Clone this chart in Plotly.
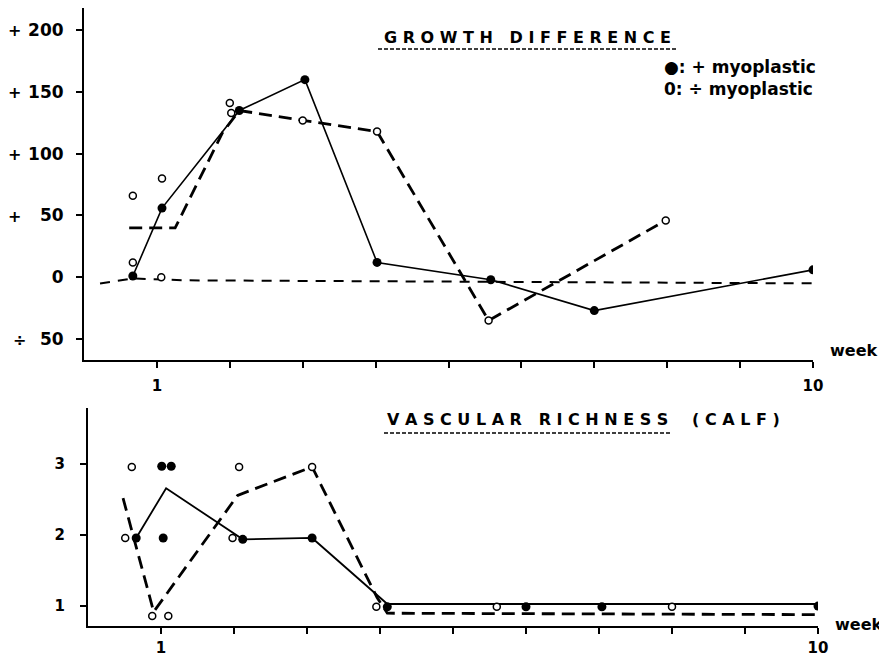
import plotly.graph_objects as go

# page body has an 8px default margin, so the figure is 8px smaller and
# all reference pixel positions are shifted by 8px.
OFF = 8
W, H = 887 - OFF, 656 - OFF

# ---------------- data: GROWTH DIFFERENCE ----------------
plus_line_x = [0.67, 1.07, 2.13, 3.03, 4.02, 5.58, 7.0, 10.0]
plus_line_y = [1, 56, 135, 160, 12, -2, -27, 6]

minus_line_x = [0.62, 1.25, 1.9, 2.13, 3.0, 4.02, 5.55, 7.98]
minus_line_y = [40, 40, 117, 135, 127, 118, -35, 46]

minus_pts_x = [0.67, 0.67, 1.07, 1.06, 2.0, 2.02, 3.0, 4.02, 5.55, 7.98]
minus_pts_y = [66, 12, 80, 0, 141, 133, 127, 118, -35, 46]

base_x = [0.22, 0.67, 1.4, 10.15]
base_y = [-5, -1, -2.5, -5]

growth_ticks = [200, 150, 100, 50, 0, -50]
growth_ticktext = ["200", "150", "100", "50", "0", "50"]
growth_signs = ["+", "+", "+", "+", "", "÷"]

# ---------------- data: VASCULAR RICHNESS ----------------
vplus_line_x = [0.66, 1.07, 2.12, 3.07, 4.1, 10.0]
vplus_line_y = [1.96, 2.66, 1.94, 1.96, 1.03, 1.03]

vplus_pts_x = [0.66, 1.01, 1.14, 1.03, 2.12, 3.07, 4.1, 6.0, 7.04, 10.0]
vplus_pts_y = [1.96, 2.97, 2.97, 1.96, 1.94, 1.96, 0.99, 0.99, 0.99, 1.0]

vminus_line_x = [0.48, 0.9, 2.05, 3.07, 3.96, 4.1, 10.0]
vminus_line_y = [2.52, 0.92, 2.56, 2.96, 1.12, 0.9, 0.88]

vminus_pts_x = [0.60, 0.51, 0.88, 1.10, 2.07, 1.98, 3.07, 3.95, 5.6, 8.0]
vminus_pts_y = [2.96, 1.96, 0.86, 0.86, 2.96, 1.96, 2.96, 0.99, 0.99, 0.99]

vasc_ticks = [3, 2, 1]
week_ticks = list(range(1, 11))
week_ticktext = ["1", "", "", "", "", "", "", "", "", "10"]

FONT = "DejaVu Sans"


def px(x):
    return (x - OFF) / W


def py(y):
    return 1 - (y - OFF) / H


fig = go.Figure()

filled = dict(symbol="circle", size=9, color="black")
opened = dict(symbol="circle", size=7, color="white", line=dict(width=1.5, color="black"))

# top
fig.add_trace(go.Scatter(x=base_x, y=base_y, mode="lines",
                         line=dict(color="black", width=2, dash="10px,8px"),
                         xaxis="x", yaxis="y", showlegend=False))
fig.add_trace(go.Scatter(x=minus_line_x, y=minus_line_y, mode="lines",
                         line=dict(color="black", width=2.8, dash="13px,7px"),
                         xaxis="x", yaxis="y", showlegend=False))
fig.add_trace(go.Scatter(x=plus_line_x, y=plus_line_y, mode="lines+markers",
                         line=dict(color="black", width=1.6), marker=filled,
                         xaxis="x", yaxis="y", showlegend=False))
fig.add_trace(go.Scatter(x=minus_pts_x, y=minus_pts_y, mode="markers",
                         marker=opened, xaxis="x", yaxis="y", showlegend=False))

# bottom
fig.add_trace(go.Scatter(x=vminus_line_x, y=vminus_line_y, mode="lines",
                         line=dict(color="black", width=2.8, dash="13px,7px"),
                         xaxis="x2", yaxis="y2", showlegend=False))
fig.add_trace(go.Scatter(x=vplus_line_x, y=vplus_line_y, mode="lines",
                         line=dict(color="black", width=1.8),
                         xaxis="x2", yaxis="y2", showlegend=False))
fig.add_trace(go.Scatter(x=vplus_pts_x, y=vplus_pts_y, mode="markers",
                         marker=filled, xaxis="x2", yaxis="y2", showlegend=False))
fig.add_trace(go.Scatter(x=vminus_pts_x, y=vminus_pts_y, mode="markers",
                         marker=opened, xaxis="x2", yaxis="y2", showlegend=False))


def axis(size, standoff, **kw):
    d = dict(showgrid=False, zeroline=False, showline=True,
             linecolor="black", linewidth=2, ticks="outside",
             ticklen=6, tickwidth=2, tickcolor="black",
             tickfont=dict(family=FONT, size=size, color="black", weight="bold"),
             ticklabelstandoff=standoff, automargin=False)
    d.update(kw)
    return d


fig.update_layout(
    width=W, height=H,
    margin=dict(l=0, r=0, t=0, b=0),
    paper_bgcolor="white", plot_bgcolor="white",
    font=dict(family=FONT, color="black"),
    xaxis=axis(15, 5, domain=[px(84), px(813)], range=[0, 10], anchor="y",
               tickvals=week_ticks, ticktext=week_ticktext),
    yaxis=axis(17, 9, domain=[py(360), py(8)], range=[-67, 218], anchor="x",
               tickvals=growth_ticks, ticktext=growth_ticktext),
    xaxis2=axis(15, 1, domain=[px(88), px(818)], range=[0, 10], anchor="y2",
                tickvals=week_ticks, ticktext=week_ticktext),
    yaxis2=axis(15, 12, domain=[py(626), py(408)], range=[0.72, 3.79], anchor="x2",
                tickvals=vasc_ticks),
)

ann = []


def text(x, y, s, size=16, xanchor="center"):
    ann.append(dict(x=px(x), y=py(y), xref="paper", yref="paper", text=s,
                    showarrow=False, xanchor=xanchor, yanchor="middle",
                    font=dict(family=FONT, size=size, color="black", weight="bold")))


# sign annotations for y ticks of top chart
for v, s in zip(growth_ticks, growth_signs):
    if s:
        ypix = 278 - v * 62 / 50
        text(14 if s == "+" else 19, ypix, s, size=16)

text(527, 38, "G R O W T H&nbsp;&nbsp;&nbsp;D I F F E R E N C E", size=16)
text(662, 67, "●: + myoplastic", size=17, xanchor="left")
text(662, 89, "0: ÷ myoplastic", size=17, xanchor="left")
text(828, 350, "week", size=16, xanchor="left")
text(527, 419, "V A S C U L A R&nbsp;&nbsp;&nbsp;R I C H N E S S", size=16)
text(736, 419, "( C A L F )", size=16)
text(833, 624, "week", size=16, xanchor="left")

fig.update_layout(annotations=ann)

shapes = [
    dict(type="line", xref="paper", yref="paper", x0=px(378), x1=px(677),
         y0=py(49), y1=py(49), line=dict(color="black", width=1.5, dash="4px,2px")),
    dict(type="line", xref="paper", yref="paper", x0=px(384), x1=px(672),
         y0=py(433), y1=py(433), line=dict(color="black", width=1.5, dash="4px,2px")),
]
fig.update_layout(shapes=shapes)

fig.write_html("out.html")
